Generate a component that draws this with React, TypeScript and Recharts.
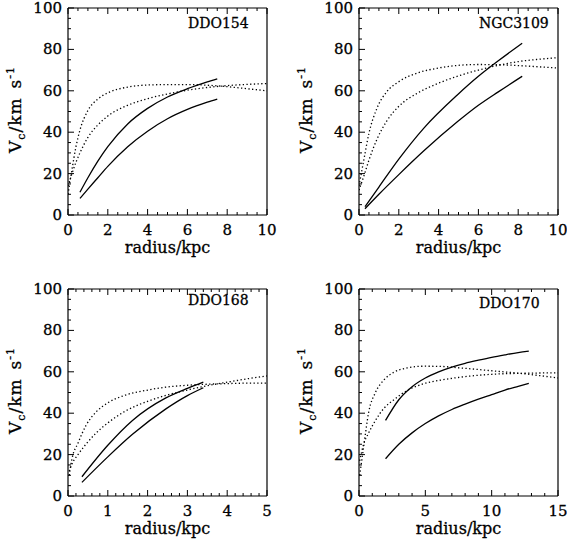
import { Line, LineChart, XAxis, YAxis } from 'recharts';

// shared velocity axis
const V_TICKS = [0, 20, 40, 60, 80, 100];
const V_MINOR = 5;

// DDO154
const ddo154SolidR = [0.6, 1, 1.5, 2, 3, 4, 5, 6, 7, 7.5];
const ddo154SolidHigh = [11, 18, 26, 33, 44, 51.5, 57, 61, 64.3, 65.8];
const ddo154SolidLow = [8, 12.5, 18, 23.5, 33, 40.5, 46.5, 51, 54.5, 56];
const ddo154DotR = [0, 0.2, 0.4, 0.6, 1, 1.5, 2, 3, 4, 5, 6, 7, 8, 9, 10];
const ddo154DotFast = [10, 22, 33, 41, 50.5, 56, 59, 61.8, 62.8, 63, 63, 62.7, 62, 61, 60];
const ddo154DotSlow = [14, 20, 25.5, 30, 37.5, 43.5, 47.8, 53, 56.2, 58.5, 60.3, 61.6, 62.5, 63.1, 63.5];
const ddo154XTicks = [0, 2, 4, 6, 8, 10];

// NGC3109
const ngc3109SolidR = [0.3, 1, 2, 3.26, 4.94, 6, 7, 8.2];
const ngc3109SolidHigh = [4, 13.5, 27, 42, 58, 67, 74.5, 83];
const ngc3109SolidLow = [3, 10, 19.5, 31, 45, 53, 59.5, 67];
const ngc3109DotR = [0, 0.25, 0.5, 0.9, 1.4, 2, 3, 4, 5, 6, 7, 8, 9, 10];
const ngc3109DotFast = [14, 27, 39.5, 51.5, 59.6, 64.4, 68.8, 71, 72.3, 72.7, 72.6, 72.2, 71.6, 71];
const ngc3109DotSlow = [12, 19, 26.5, 36.5, 45.5, 52.5, 59.2, 63.7, 67.2, 70, 72.3, 74.1, 75.2, 76];
const ngc3109XTicks = [0, 2, 4, 6, 8, 10];

// DDO168
const ddo168SolidR = [0.35, 1, 1.62, 2.46, 3, 3.4];
const ddo168SolidHigh = [9.3, 24.5, 36.5, 47.4, 52, 55];
const ddo168SolidLow = [6.6, 18.9, 29.8, 42.1, 48.5, 52.3];
const ddo168DotR = [0.03, 0.1, 0.25, 0.45, 0.7, 1, 1.42, 2.04, 2.46, 3, 3.5, 4, 4.5, 5];
const ddo168DotFast = [10, 18, 25.5, 34, 40.5, 45, 48.6, 51.3, 52.6, 53.5, 54, 54.3, 54.5, 54.5];
const ddo168DotSlow = [12, 15.5, 20, 25, 30.3, 35.3, 40.8, 46, 48.6, 51.2, 53.3, 55, 56.6, 58];
const ddo168XTicks = [0, 1, 2, 3, 4, 5];

// DDO170
const ddo170SolidR = [2, 3, 4, 5, 6, 7, 8, 9, 10, 11, 12, 12.8];
const ddo170SolidHigh = [36.5, 46.5, 52.8, 57, 60, 62.3, 64.1, 65.6, 67, 68.2, 69.3, 70];
const ddo170SolidLow = [18, 25, 30.5, 35, 38.7, 41.8, 44.4, 46.8, 49, 51.2, 53, 54.4];
const ddo170DotR = [0.05, 0.35, 0.73, 1.24, 1.87, 2.63, 3.64, 4.9, 6.16, 7.4, 10, 12.5, 15];
const ddo170DotFast = [10, 23.7, 40.5, 50, 56, 59.8, 61.9, 62.7, 62.6, 62, 60.5, 59, 57];
const ddo170DotSlow = [17, 25, 30.5, 36.5, 42.3, 46.5, 51, 54.3, 56, 57.2, 58.8, 59.3, 59.5];
const ddo170XTicks = [0, 5, 10, 15];

type Pt = { r: number; v: number };
const toPoints = (rs: number[], vs: number[]): Pt[] => rs.map((r, i) => ({ r, v: vs[i] }));

const FONT = '"DejaVu Serif", serif';
const W = 280;
const H = 265;
// plot box: left 68, top 8, right 267, bottom 215 (chart-local)
const LEFT_W = 60;
const RIGHT_W = 8;
const TOP_H = 8;
const BOTTOM_H = 40;
const M = { top: 0, left: 8, right: 5, bottom: 10 };
const PLOT_L = M.left + LEFT_W;
const PLOT_T = M.top + TOP_H;
const PLOT_W = W - PLOT_L - M.right - RIGHT_W;
const PLOT_H = H - PLOT_T - M.bottom - BOTTOM_H;

function withMinors(majors: number[], step: number) {
  const out: number[] = [];
  const end = majors[majors.length - 1];
  for (let i = 0; i * step <= end + 1e-9; i++) out.push(Math.round(i * step * 1000) / 1000);
  return out;
}

const textStyle = { fill: '#000', stroke: '#000', strokeWidth: 0.3, fontFamily: FONT };

function makeTick(side: 'bottom' | 'top' | 'left' | 'right', majors: number[]) {
  return (props: any) => {
    const { x, y, payload } = props;
    const value = payload.value;
    const major = majors.some((m) => Math.abs(m - value) < 1e-6);
    const len = major ? 6 : 3;
    let line;
    if (side === 'bottom') line = <line x1={x} y1={y} x2={x} y2={y - len} />;
    else if (side === 'top') line = <line x1={x} y1={y} x2={x} y2={y + len} />;
    else if (side === 'left') line = <line x1={x} y1={y} x2={x + len} y2={y} />;
    else line = <line x1={x} y1={y} x2={x - len} y2={y} />;
    return (
      <g stroke="#000" strokeWidth={1}>
        {line}
        {major && side === 'bottom' && (
          <text x={x} y={y + 20} textAnchor="middle" fontSize={15} {...textStyle}>
            {value}
          </text>
        )}
        {major && side === 'left' && (
          <text x={x - 6} y={y + 5} textAnchor="end" fontSize={15} {...textStyle}>
            {value}
          </text>
        )}
      </g>
    );
  };
}

interface PanelProps {
  name: string;
  left: number;
  top: number;
  titleDy: number;
  xTicks: number[];
  xMinor: number;
  solid: Pt[][];
  dotted: Pt[][];
}

function Panel({ name, left, top, titleDy, xTicks, xMinor, solid, dotted }: PanelProps) {
  const xMax = xTicks[xTicks.length - 1];
  const xAll = withMinors(xTicks, xMinor);
  const vAll = withMinors(V_TICKS, V_MINOR);
  const axisLine = { stroke: '#000', strokeWidth: 1.2 };

  return (
    <div style={{ position: 'absolute', left, top }}>
      <LineChart width={W} height={H} margin={M}>
        <XAxis
          type="number"
          dataKey="r"
          domain={[0, xMax]}
          ticks={xAll}
          interval={0}
          height={BOTTOM_H}
          tickSize={0}
          tickMargin={0}
          tickLine={false}
          axisLine={axisLine}
          tick={makeTick('bottom', xTicks)}
          allowDataOverflow
          label={() => (
            <text x={PLOT_L + PLOT_W / 2} y={PLOT_T + PLOT_H + 38} textAnchor="middle" fontSize={16} {...textStyle}>
              radius/kpc
            </text>
          )}
        />
        <XAxis
          xAxisId="top"
          orientation="top"
          type="number"
          dataKey="r"
          domain={[0, xMax]}
          ticks={xAll}
          interval={0}
          height={TOP_H}
          tickSize={0}
          tickMargin={0}
          tickLine={false}
          axisLine={axisLine}
          tick={makeTick('top', xTicks)}
          allowDataOverflow
          label={() => (
            <text x={PLOT_L + 120} y={PLOT_T + titleDy} textAnchor="start" fontSize={14} {...textStyle}>
              {name}
            </text>
          )}
        />
        <YAxis
          type="number"
          domain={[0, 100]}
          ticks={vAll}
          interval={0}
          width={LEFT_W}
          tickSize={0}
          tickMargin={0}
          tickLine={false}
          axisLine={axisLine}
          tick={makeTick('left', V_TICKS)}
          allowDataOverflow
          label={() => (
            <text
              transform={`translate(${PLOT_L - 47}, ${PLOT_T + PLOT_H / 2 - 2}) rotate(-90)`}
              textAnchor="middle"
              fontSize={17}
              letterSpacing={1}
              {...textStyle}
            >
              V<tspan fontSize={11} dy={4}>c</tspan>
              <tspan dy={-4}>/km</tspan>
              <tspan dx={9}>s</tspan>
              <tspan fontSize={11} dy={-7}>-1</tspan>
            </text>
          )}
        />
        <YAxis
          yAxisId="right"
          orientation="right"
          type="number"
          domain={[0, 100]}
          ticks={vAll}
          interval={0}
          width={RIGHT_W}
          tickSize={0}
          tickMargin={0}
          tickLine={false}
          axisLine={axisLine}
          tick={makeTick('right', V_TICKS)}
        />
        {solid.map((d, i) => (
          <Line
            key={`s${i}`}
            data={d}
            dataKey="v"
            type="monotone"
            stroke="#000"
            strokeWidth={1.3}
            dot={false}
            isAnimationActive={false}
          />
        ))}
        {dotted.map((d, i) => (
          <Line
            key={`d${i}`}
            data={d}
            dataKey="v"
            type="monotone"
            stroke="#000"
            strokeWidth={1.3}
            strokeDasharray="1.3 2.4"
            dot={false}
            isAnimationActive={false}
          />
        ))}
      </LineChart>
    </div>
  );
}

export default function App() {
  return (
    <div style={{ position: 'absolute', left: 0, top: 0, width: 567, height: 546, background: '#fff' }}>
      <Panel
        name="DDO154"
        left={0}
        top={0}
        titleDy={20}
        xTicks={ddo154XTicks}
        xMinor={0.5}
        solid={[toPoints(ddo154SolidR, ddo154SolidHigh), toPoints(ddo154SolidR, ddo154SolidLow)]}
        dotted={[toPoints(ddo154DotR, ddo154DotFast), toPoints(ddo154DotR, ddo154DotSlow)]}
      />
      <Panel
        name="NGC3109"
        left={291}
        top={0}
        titleDy={20}
        xTicks={ngc3109XTicks}
        xMinor={0.5}
        solid={[toPoints(ngc3109SolidR, ngc3109SolidHigh), toPoints(ngc3109SolidR, ngc3109SolidLow)]}
        dotted={[toPoints(ngc3109DotR, ngc3109DotFast), toPoints(ngc3109DotR, ngc3109DotSlow)]}
      />
      <Panel
        name="DDO168"
        left={0}
        top={281}
        titleDy={16}
        xTicks={ddo168XTicks}
        xMinor={0.2}
        solid={[toPoints(ddo168SolidR, ddo168SolidHigh), toPoints(ddo168SolidR, ddo168SolidLow)]}
        dotted={[toPoints(ddo168DotR, ddo168DotFast), toPoints(ddo168DotR, ddo168DotSlow)]}
      />
      <Panel
        name="DDO170"
        left={291}
        top={281}
        titleDy={19}
        xTicks={ddo170XTicks}
        xMinor={1}
        solid={[toPoints(ddo170SolidR, ddo170SolidHigh), toPoints(ddo170SolidR, ddo170SolidLow)]}
        dotted={[toPoints(ddo170DotR, ddo170DotFast), toPoints(ddo170DotR, ddo170DotSlow)]}
      />
    </div>
  );
}
